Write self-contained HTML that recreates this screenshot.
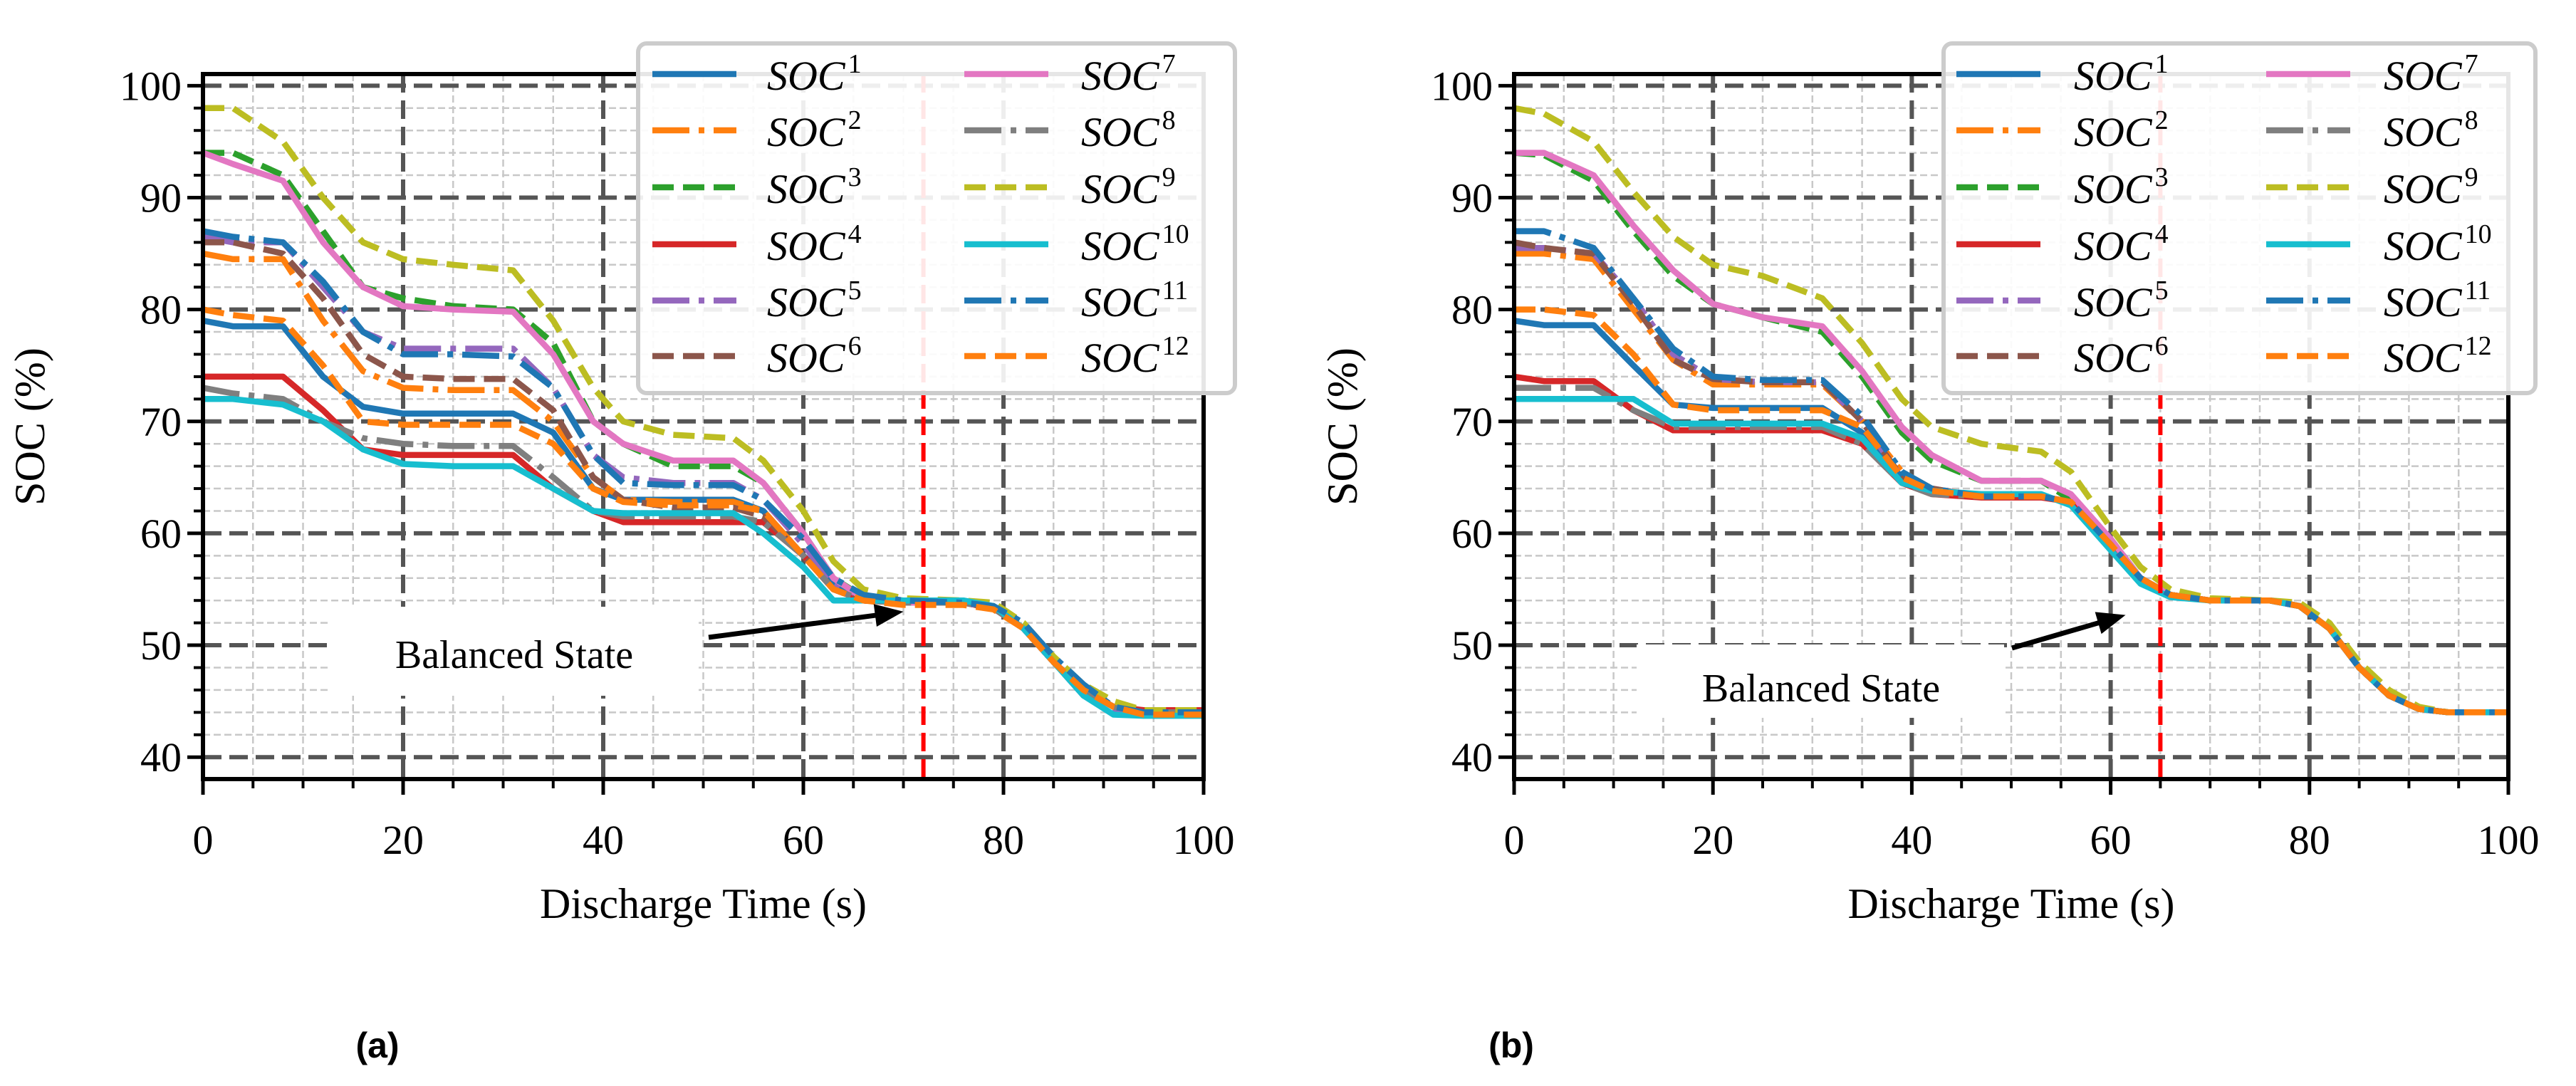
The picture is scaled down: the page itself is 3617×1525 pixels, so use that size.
<!DOCTYPE html>
<html><head><meta charset="utf-8"><style>
html,body{margin:0;padding:0;background:#fff;}
svg{display:block;font-family:"Liberation Serif",serif;}
</style></head><body>
<svg id="fig" width="3617" height="1525" viewBox="0 0 3617 1525" xmlns="http://www.w3.org/2000/svg">
<rect width="3617" height="1525" fill="#fff"/>
<text x="530" y="1485" font-family="Liberation Sans, sans-serif" font-weight="bold" font-size="50" text-anchor="middle">(a)</text>
<text x="2122" y="1485" font-family="Liberation Sans, sans-serif" font-weight="bold" font-size="50" text-anchor="middle">(b)</text>
</svg>
<script>
const T = [0,3,8,12,16,20,25,31,35,39,42,47,53,56,60,63,66,70,76,79,82,85,88,91,94,100];
const xTicks = [0,20,40,60,80,100];
const yTicks = [40,50,60,70,80,90,100];
const seriesNames = ["1","2","3","4","5","6","7","8","9","10","11","12"];
const balanceA = 72;
const balanceB = 65;
const a1 = [79,78.5,78.5,74,71.3,70.7,70.7,70.7,69,64,63,63,63,62,58,55.5,54,53.8,53.8,53.5,51.5,48.5,46,44.5,44,44];
const a2 = [85,84.5,84.5,79,74.5,73,72.8,72.8,70,65,63,62.8,62.8,62,58,55,54,53.8,53.8,53.3,51.5,48.5,46,44.5,44,44];
const a3 = [94,94,92,87,82,81,80.3,80,77,70,68,66,66,64.5,60,56,54.3,54,53.8,53.5,51.5,48.5,46,44.5,44,44];
const a4 = [74,74,74,71,67.5,67,67,67,64,62,61,61,61,61,58,55,54,53.8,53.8,53.3,51.5,48.5,46,44.5,44.2,44.2];
const a5 = [86.5,86,86,82,78,76.5,76.5,76.5,73,67,65,64.5,64.5,63,59,55.5,54.3,53.8,53.8,53.3,51.5,48.5,45.5,44,44,44];
const a6 = [86,86,85,81,76,74,73.8,73.8,71,65,63,62.3,62.3,61.5,58,55,54,53.8,53.8,53.3,51.5,48.5,46,44.5,44,44];
const a7 = [94,93,91.5,86,82,80.3,80,79.8,76,70,68,66.5,66.5,64.5,60,56,54.2,53.8,53.8,53.5,51.5,48.5,46,44.5,44,44];
const a8 = [73,72.5,72,70,68.5,68,67.8,67.8,65,62,61.5,61.5,61.5,61,58,55,54,53.8,53.8,53.3,51.5,48.5,46,44.5,44,44];
const a9 = [98,98,95,90,86,84.5,84,83.5,79,73,70,68.8,68.5,66.5,62,57.5,55,54.2,54,53.8,52,49,46.5,45,44.2,44.2];
const a10 = [72,72,71.5,70,67.5,66.2,66,66,64,62,61.8,61.8,61.8,60,57,54,54,54,54,53.5,51.5,48.5,45.5,43.8,43.7,43.7];
const a11 = [87,86.5,86,82.5,78,76,76,75.8,73,67,64.5,64.3,64.3,63,59.5,56,54.5,54,53.8,53.5,52,49,46.5,44.5,44,44];
const a12 = [80,79.5,79,75,70,69.7,69.7,69.7,68,64,62.8,62.5,62.5,62,58,55,54,53.6,53.6,53.2,51.5,48.5,46,44.5,43.8,43.8];
const b1 = [79,78.6,78.6,75,71.5,71.2,71.2,71.2,69,65,63.8,63.3,63.3,62.8,59,56,54.5,54,54,53.5,51.5,48,45.5,44.3,44,44];
const b2 = [85,85,84.5,80,75.5,73.3,73.3,73.3,70,65.5,64,63.3,63.3,62.8,59,56,54.5,54,54,53.5,51.5,48,45.5,44.3,44,44];
const b3 = [94,93.8,91.5,87,83,80.5,79.3,78,74,69,66.5,64.7,64.7,63,59.5,56,54.5,54,54,53.5,51.5,48,45.5,44.3,44,44];
const b4 = [74,73.6,73.6,71,69.2,69.2,69.2,69.2,68,64.5,63.5,63.2,63.2,62.8,59,56,54.5,54,54,53.5,51.5,48,45.5,44.3,44,44];
const b5 = [85.5,85.5,85,81,76,73.8,73.5,73.5,70,65,64,63.3,63.3,62.8,59,56,54.5,54,54,53.5,51.5,48,45.5,44.3,44,44];
const b6 = [86,85.5,85,80.5,75.5,73.8,73.5,73.5,70,65,64,63.3,63.3,62.8,59,56,54.5,54,54,53.5,51.5,48,45.5,44.3,44,44];
const b7 = [94,94,92,87.5,83.5,80.5,79.3,78.5,74.5,69.5,67,64.7,64.7,63.5,59.5,56,54.5,54,54,53.5,51.5,48,45.5,44.3,44,44];
const b8 = [73,73,73,71,69.5,69.5,69.5,69.5,68,64.5,63.5,63.3,63.3,62.8,59,56,54.5,54,54,53.5,51.5,48,45.5,44.3,44,44];
const b9 = [98,97.5,95,90.5,86.5,84,83,81,77,72,69.5,68,67.3,65.5,60.5,57,55,54.2,54,53.8,52,48.5,46,44.5,44,44];
const b10 = [72,72,72,72,69.8,69.8,69.8,69.8,68.5,64.5,63.8,63.5,63.5,62.5,58.5,55.5,54.3,54,54,53.5,51.5,48,45.5,44.3,44,44];
const b11 = [87,87,85.5,81,76.5,74,73.7,73.7,70.5,65.5,64,63.3,63.3,62.8,59,56,54.5,54,54,53.5,51.5,48,45.5,44.3,44,44];
const b12 = [80,80,79.5,76,71.5,71,71,71,69.5,65,63.8,63.3,63.3,62.8,59,56,54.5,54,54,53.5,51.5,48,45.5,44.3,44,44];

const NS = "http://www.w3.org/2000/svg";
const svg = document.getElementById('fig');
const colors = ["#1f77b4","#ff7f0e","#2ca02c","#d62728","#9467bd","#8c564b","#e377c2","#7f7f7f","#bcbd22","#17becf","#1f77b4","#ff7f0e"];
const styles = ["solid","dashdot","dashed","solid","dashdot","dashed","solid","dashdot","dashed","solid","dashdot","dashed"];
const dashes = {solid:"", dashed:"30 13", dashdot:"52 13 8 13"};
function mk(tag, attrs, parent){const e=document.createElementNS(NS,tag);for(const k in attrs)e.setAttribute(k,attrs[k]);(parent||svg).appendChild(e);return e;}

function drawPlot(id, L, R, TOP, BOT, data, balance, ann, leg, ylabX){
  const g = mk('g',{});
  
  
  const xmin=0,xmax=100,ymin=38.04,ymax=101.04;
  const sx=v=>L+(v-xmin)/(xmax-xmin)*(R-L);
  const sy=v=>BOT-(v-ymin)/(ymax-ymin)*(BOT-TOP);
  const cp = mk('clipPath',{id:'clip'+id},g);
  mk('rect',{x:L,y:TOP,width:R-L,height:BOT-TOP},cp);
  for(let v=5;v<100;v+=5){ if(v%20) { const l=mk('line',{x1:sx(v),x2:sx(v),y1:TOP,y2:BOT,stroke:'#c8c8c8','stroke-width':2.5,'stroke-dasharray':'10 5'},g);   } }
  for(let v=40;v<=100;v+=2){ if(v%10) { const l=mk('line',{x1:L,x2:R,y1:sy(v),y2:sy(v),stroke:'#c8c8c8','stroke-width':2.5,'stroke-dasharray':'10 5'},g);   } }
  xTicks.forEach(v=>{ if(v>0&&v<100){ const l=mk('line',{x1:sx(v),x2:sx(v),y1:TOP,y2:BOT,stroke:'#555','stroke-width':6,'stroke-dasharray':'26 11'},g);   }});
  yTicks.forEach(v=>{ const l=mk('line',{x1:L,x2:R,y1:sy(v),y2:sy(v),stroke:'#555','stroke-width':6,'stroke-dasharray':'26 11'},g);   });
  const sg = mk('g',{'clip-path':'url(#clip'+id+')'},g);
  data.forEach((arr,i)=>{
    const pts = arr.map((v,j)=>sx(T[j]).toFixed(1)+','+sy(v).toFixed(1)).join(' ');
    const p = mk('polyline',{points:pts,fill:'none',stroke:colors[i],'stroke-width':8.5,'stroke-linejoin':'round','stroke-dasharray':dashes[styles[i]]},sg);
    
    
  });
  const bl = mk('line',{x1:sx(balance),x2:sx(balance),y1:TOP,y2:BOT,stroke:'#ff0000','stroke-width':6,'stroke-dasharray':'26 11'},g);
  
  
  const ab = mk('rect',{x:ann.bx,y:ann.by,width:ann.bw,height:ann.bh,fill:'#fff'},g);
  
  
  const at = mk('text',{x:ann.tx,y:ann.ty,'font-size':56,'text-anchor':'middle'},g);
  at.textContent='Balanced State';
  
  
  const ax2=sx(ann.px), ay2=sy(ann.py);
  const ang=Math.atan2(ay2-ann.ay,ax2-ann.ax);
  const al = mk('line',{x1:ann.ax,y1:ann.ay,x2:ax2-28*Math.cos(ang),y2:ay2-28*Math.sin(ang),stroke:'#000','stroke-width':7},g);
  
  
  const hx=ax2,hy=ay2,bw=16,bl2=40;
  const ah = mk('polygon',{points:`${hx},${hy} ${hx-bl2*Math.cos(ang)+bw*Math.sin(ang)},${hy-bl2*Math.sin(ang)-bw*Math.cos(ang)} ${hx-bl2*Math.cos(ang)-bw*Math.sin(ang)},${hy-bl2*Math.sin(ang)+bw*Math.cos(ang)}`,fill:'#000'},g);
  
  
  const sp = mk('rect',{x:L,y:TOP,width:R-L,height:BOT-TOP,fill:'none',stroke:'#000','stroke-width':6},g);
  
  
  for(let v=0;v<=100;v+=5){ const major=v%20===0; mk('line',{x1:sx(v),x2:sx(v),y1:BOT,y2:BOT+(major?22:13),stroke:'#000','stroke-width':major?5:4},g); }
  for(let v=40;v<=100;v+=2){ const major=v%10===0; mk('line',{x1:L,x2:L-(major?22:13),y1:sy(v),y2:sy(v),stroke:'#000','stroke-width':major?5:4},g); }
  xTicks.forEach(v=>{ const t=mk('text',{x:sx(v),y:BOT+105,'font-size':58,'text-anchor':'middle'},g); t.textContent=v;   });
  yTicks.forEach(v=>{ const t=mk('text',{x:L-30,y:sy(v)+20,'font-size':58,'text-anchor':'end'},g); t.textContent=v;   });
  const xl = mk('text',{x:(L+R)/2,y:BOT+195,'font-size':60,'text-anchor':'middle'},g);
  xl.textContent='Discharge Time (s)';
  
  
  const yl = mk('text',{x:0,y:0,'font-size':60,'text-anchor':'middle',transform:`translate(${ylabX},${(TOP+BOT)/2}) rotate(-90)`},g);
  yl.textContent='SOC (%)';
  
  
  const lg = mk('g',{},g);
  
  
  mk('rect',{x:leg.x,y:leg.y,width:leg.w,height:leg.h,rx:12,fill:'#fff','fill-opacity':0.9,stroke:'#cccccc','stroke-width':6},lg);
  const rows=[104,183,263,343,422,500];
  seriesNames.forEach((n,i)=>{
    const col=Math.floor(i/6), r=i%6;
    const hx0=leg.hx[col], y=rows[r];
    const e = mk('g',{},lg);
    
    
    mk('line',{x1:hx0,x2:hx0+118,y1:y,y2:y,stroke:colors[i],'stroke-width':8.5,'stroke-dasharray':dashes[styles[i]]},e);
    const t = mk('text',{x:leg.tx[col],y:y+22,'font-size':58,'font-style':'italic'},e);
    t.textContent='SOC';
    const s = mk('tspan',{'font-size':38,'font-style':'normal',dy:-24,dx:4},t);
    s.textContent=n;
  });
}
drawPlot('a',285,1690,104,1094,[a1,a2,a3,a4,a5,a6,a7,a8,a9,a10,a11,a12],balanceA,
  {bx:461,by:852,bw:520,bh:125,tx:722,ty:938,ax:995,ay:895,px:70,py:53},
  {x:896,y:61,w:838,h:491,hx:[916,1354],tx:[1077,1518]},62);
drawPlot('b',2126,3522,104,1094,[b1,b2,b3,b4,b5,b6,b7,b8,b9,b10,b11,b12],balanceB,
  {bx:2298,by:905,bw:516,bh:103,tx:2557,ty:985,ax:2825,ay:910,px:61.5,py:52.7},
  {x:2729,y:61,w:831,h:491,hx:[2747,3182],tx:[2912,3347]},1905);
</script>
</body></html>
